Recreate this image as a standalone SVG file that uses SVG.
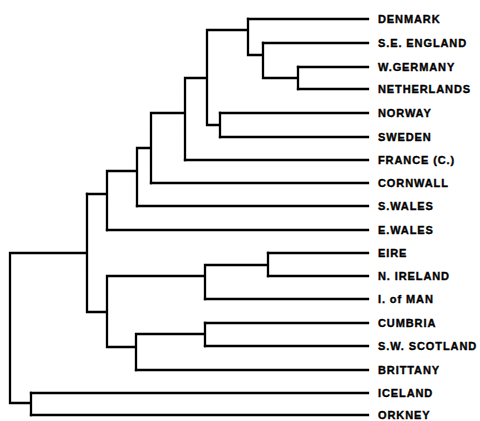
<svg xmlns="http://www.w3.org/2000/svg" width="480" height="421" viewBox="0 0 480 421">
<style>
.c{fill:none;stroke:#000;stroke-width:2.3;stroke-linecap:square;stroke-linejoin:miter}
.t{font-family:"Liberation Sans",Arial,sans-serif;font-weight:bold;font-size:11px;letter-spacing:0.9px;fill:#000;stroke:#000;stroke-width:0.35px}
</style>
<rect width="480" height="421" fill="#fff"/>
<g id="connectors">
<path class="c" d="M248,19H368M263,43H368M298,67H368M298,89H368M220,113H368M220,137H368M185,160H368M151,183H368M137,206H368M107,230H368M268,253H368M268,276H368M205,299H368M205,323H368M205,346H368M136,370H368M31,393H368M31,415H368"/>
<path class="c" d="M298,67V89M263,78H298M263,43V78M248,55H263M248,19V55M207,30H248M220,113V137M207,125H220M207,30V125M185,78H207M185,78V160M151,113H185M151,113V183M137,148H151M137,148V206M107,171H137M107,171V230M87,194H107"/>
<path class="c" d="M268,253V276M205,265H268M205,265V299M107,276H205M205,323V346M136,334H205M136,334V370M107,347H136M107,276V347M87,312H107M87,194V312M10,253H87M31,393V415M10,403H31M10,253V403"/>
</g>
<g id="denmark"><text class="t" x="378" y="23">DENMARK</text></g>
<g id="se-england"><text class="t" x="378" y="47">S.E. ENGLAND</text></g>
<g id="w-germany"><text class="t" x="378" y="71">W.GERMANY</text></g>
<g id="netherlands"><text class="t" x="378" y="93">NETHERLANDS</text></g>
<g id="norway"><text class="t" x="378" y="117">NORWAY</text></g>
<g id="sweden"><text class="t" x="378" y="141">SWEDEN</text></g>
<g id="france"><text class="t" x="378" y="164">FRANCE (C.)</text></g>
<g id="cornwall"><text class="t" x="378" y="187">CORNWALL</text></g>
<g id="s-wales"><text class="t" x="378" y="210">S.WALES</text></g>
<g id="e-wales"><text class="t" x="378" y="234">E.WALES</text></g>
<g id="eire"><text class="t" x="378" y="257" letter-spacing="2.5">EIRE</text></g>
<g id="n-ireland"><text class="t" x="378" y="280">N. IRELAND</text></g>
<g id="i-of-man"><text class="t" x="378" y="303">I. of MAN</text></g>
<g id="cumbria"><text class="t" x="378" y="327">CUMBRIA</text></g>
<g id="sw-scotland"><text class="t" x="378" y="350">S.W. SCOTLAND</text></g>
<g id="brittany"><text class="t" x="378" y="374">BRITTANY</text></g>
<g id="iceland"><text class="t" x="378" y="397">ICELAND</text></g>
<g id="orkney"><text class="t" x="378" y="419">ORKNEY</text></g>
</svg>
